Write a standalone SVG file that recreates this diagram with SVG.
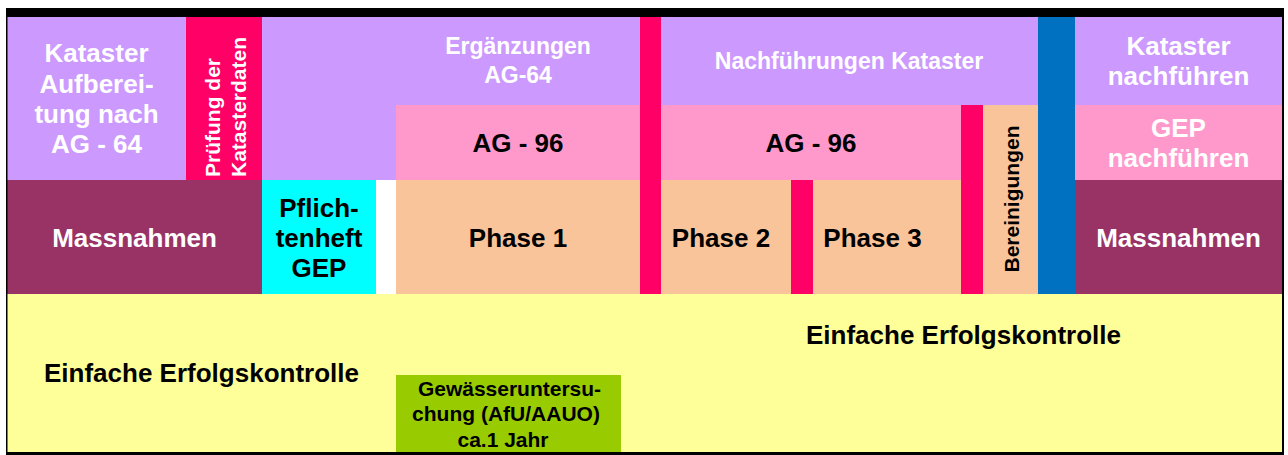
<svg xmlns="http://www.w3.org/2000/svg" width="1288" height="455" viewBox="0 0 1288 455">
<style>
text{font-family:"Liberation Sans",Arial,sans-serif;font-weight:bold}
.w{fill:#FFFFFF}
.b{fill:#000000}
.c{text-anchor:middle}
.f26{font-size:26px}
.f23{font-size:23px}
.f21{font-size:21px}
.pur{fill:#CC99FF}
.red{fill:#FF0066}
.pnk{fill:#FF99CC}
.mar{fill:#993366}
.pch{fill:#F9C499}
.blu{fill:#0070C0}
.cya{fill:#00FFFF}
.yel{fill:#FFFF99}
.grn{fill:#99CC00}
</style>
<rect x="0" y="0" width="1288" height="455" fill="#FFFFFF"/>
<rect x="6" y="8" width="1278" height="447" fill="#000000"/>
<g id="erfolgskontrolle">
<rect class="yel" x="7.5" y="294" width="1274.5" height="158"/>
<text class="b f26 c" x="201.5" y="382">Einfache Erfolgskontrolle</text>
<text class="b f26 c" x="963.5" y="344">Einfache Erfolgskontrolle</text>
</g>
<g id="kataster-aufbereitung">
<rect class="pur" x="7.5" y="17" width="178.5" height="163"/>
<text class="w f26 c" x="96.5" y="62">Kataster</text>
<text class="w f26 c" x="96.5" y="92.5">Aufberei-</text>
<text class="w f26 c" x="96.5" y="123">tung nach</text>
<text class="w f26 c" x="96.5" y="153">AG - 64</text>
</g>
<g id="pruefung">
<rect class="red" x="186" y="17" width="76" height="163"/>
<text class="w f21" transform="translate(220,177) rotate(-90)">Prüfung der</text>
<text class="w f21" transform="translate(246,177) rotate(-90)">Katasterdaten</text>
</g>
<g id="ergaenzungen">
<rect class="pur" x="262" y="17" width="378" height="88"/>
<rect class="pur" x="262" y="105" width="134" height="75"/>
<text class="w f23 c" x="518" y="54">Ergänzungen</text>
<text class="w f23 c" x="518" y="82.5">AG-64</text>
</g>
<g id="ag96-1">
<rect class="pnk" x="396" y="105" width="244" height="75"/>
<text class="b f26 c" x="518" y="151.5">AG - 96</text>
</g>
<g id="trenner-1">
<rect class="red" x="640" y="17" width="21" height="277"/>
</g>
<g id="nachfuehrungen">
<rect class="pur" x="661" y="17" width="377" height="88"/>
<text class="w f23 c" x="849" y="69">Nachführungen Kataster</text>
</g>
<g id="ag96-2">
<rect class="pnk" x="661" y="105" width="300" height="75"/>
<text class="b f26 c" x="811" y="151.5">AG - 96</text>
</g>
<g id="trenner-2">
<rect class="red" x="961" y="105" width="22" height="189"/>
</g>
<g id="bereinigungen">
<rect class="pch" x="983" y="105" width="55" height="189"/>
<text class="b f21 c" transform="translate(1019,199) rotate(-90)">Bereinigungen</text>
</g>
<g id="trenner-blau">
<rect class="blu" x="1038" y="17" width="37" height="277"/>
</g>
<g id="kataster-nachfuehren">
<rect class="pur" x="1075" y="17" width="207" height="88"/>
<text class="w f26 c" x="1178.5" y="55">Kataster</text>
<text class="w f26 c" x="1178.5" y="85">nachführen</text>
</g>
<g id="gep-nachfuehren">
<rect class="pnk" x="1075" y="105" width="207" height="75"/>
<text class="w f26 c" x="1178.5" y="136.5">GEP</text>
<text class="w f26 c" x="1178.5" y="166.5">nachführen</text>
</g>
<g id="massnahmen-links">
<rect class="mar" x="7.5" y="180" width="254.5" height="114"/>
<text class="w f26 c" x="134.5" y="247">Massnahmen</text>
</g>
<g id="pflichtenheft">
<rect class="cya" x="262" y="180" width="114" height="114"/>
<text class="b f26 c" x="319" y="216.5">Pflich-</text>
<text class="b f26 c" x="319" y="247">tenheft</text>
<text class="b f26 c" x="319" y="276.5">GEP</text>
</g>
<rect x="376" y="180" width="20" height="114" fill="#FFFFFF"/>
<g id="phase1">
<rect class="pch" x="396" y="180" width="244" height="114"/>
<text class="b f26 c" x="518" y="247">Phase 1</text>
</g>
<g id="phase2">
<rect class="pch" x="661" y="180" width="130" height="114"/>
<text class="b f26 c" x="721" y="247">Phase 2</text>
</g>
<g id="trenner-3">
<rect class="red" x="791" y="180" width="22" height="114"/>
</g>
<g id="phase3">
<rect class="pch" x="813" y="180" width="148" height="114"/>
<text class="b f26 c" x="872.5" y="247">Phase 3</text>
</g>
<g id="massnahmen-rechts">
<rect class="mar" x="1075" y="180" width="207" height="114"/>
<text class="w f26 c" x="1178.5" y="247">Massnahmen</text>
</g>
<g id="gewaesseruntersuchung">
<rect class="grn" x="396" y="375" width="225" height="77"/>
<text class="b f21 c" x="509.5" y="396">Gewässeruntersu-</text>
<text class="b f21 c" x="506" y="421">chung (AfU/AAUO)</text>
<text class="b f21 c" x="503" y="446.5">ca.1 Jahr</text>
</g>
</svg>
